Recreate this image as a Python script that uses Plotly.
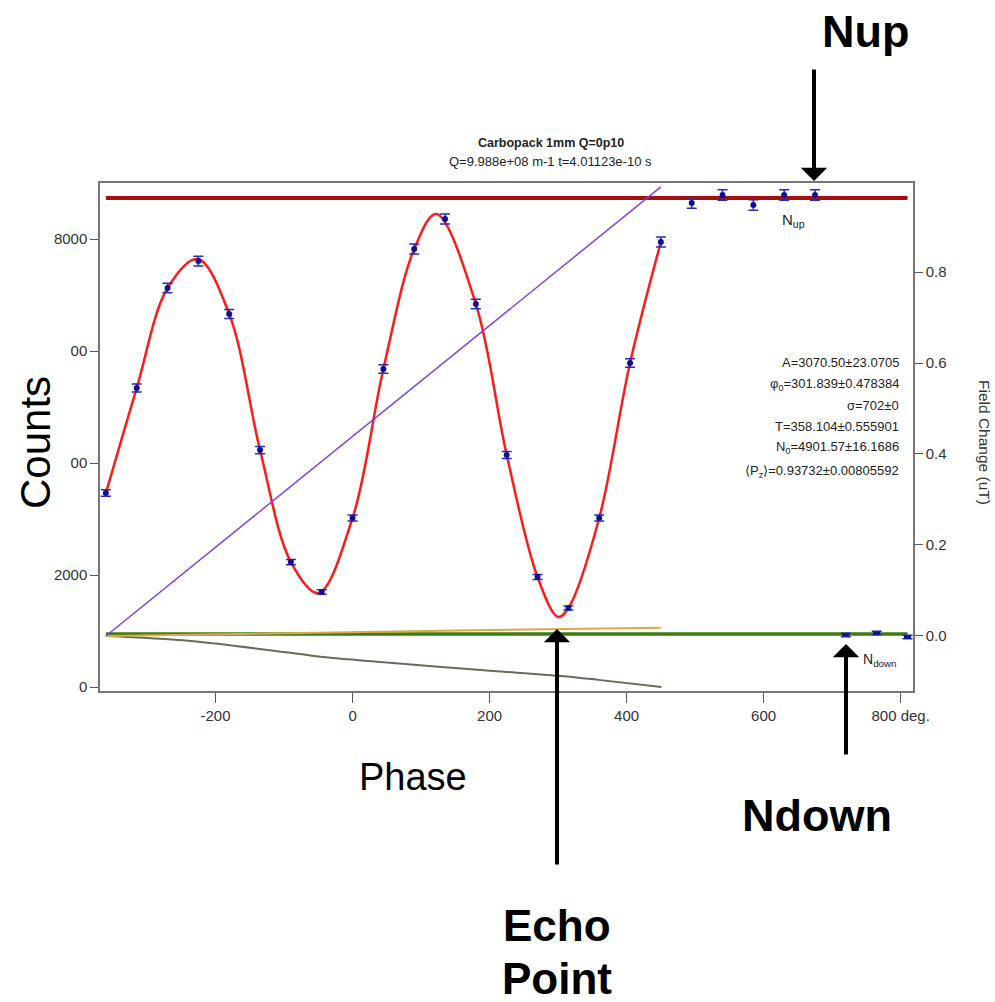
import plotly.graph_objects as go

# ---------------- data ----------------
phase = [-360, -315, -270, -225, -180, -135, -90, -45, 0, 45, 90, 135,
         180, 225, 270, 315, 360, 405, 450]
counts = [3464, 5339, 7125, 7607, 6661, 4232, 2232, 1696, 3018, 5679, 7821, 8357,
          6839, 4143, 1964, 1411, 3018, 5786, 7946]
counts_err = [59, 73, 84, 87, 82, 65, 47, 41, 55, 75, 88, 91, 83, 64, 44, 37, 55, 76, 89]

nup_phase = [495, 540, 585, 630, 675]
nup_counts = [8643, 8786, 8607, 8786, 8786]
nup_err = [93, 94, 93, 94, 94]

ndown_phase = [720, 765, 810]
ndown_counts = [929, 964, 893]
ndown_err = [30, 31, 30]

# fitted curve
fit_phase = [-360, -315, -270, -226, -180, -135, -90, -50, 0, 45, 90, 122,
             180, 225, 270, 300, 315, 360, 405, 450]
fit_counts = [3464, 5339, 7125, 7643, 6661, 4232, 2232, 1680, 3018, 5679, 7821, 8446,
              6839, 4143, 1964, 1250, 1411, 3018, 5786, 7946]

# Nup / Ndown levels
level_phase = [-360, 810]
nup_level = [8732, 8732]
ndown_level = [946, 946]

# field change traces (right axis, uT)
field_phase = [-360, 450]
field_ramp = [0.0, 0.987]
tan_phase = [-360, -200, 0, 200, 450]
tan_field = [0.0, 0.004, 0.009, 0.013, 0.018]
grey_phase = [-360, -236, -91, -32, 41, 187, 304, 362, 451]
grey_field = [0.0, -0.011, -0.037, -0.048, -0.057, -0.075, -0.088, -0.097, -0.112]

x_ticks = [-200, 0, 200, 400, 600, 800]
x_ticktext = ["-200", "0", "200", "400", "600", "800 deg."]
y_ticks = [0, 2000, 4000, 6000, 8000]
y_ticktext = ["0", "2000", "00", "00", "8000"]
y2_ticks = [0.0, 0.2, 0.4, 0.6, 0.8]
y2_ticktext = ["0.0", "0.2", "0.4", "0.6", "0.8"]

fit_lines = ["A=3070.50±23.0705",
             "φ<sub>0</sub>=301.839±0.478384",
             "σ=702±0",
             "T=358.104±0.555901",
             "N<sub>0</sub>=4901.57±16.1686",
             "⟨P<sub>z</sub>⟩=0.93732±0.00805592"]

# ---------------- figure ----------------
W, H = 995, 1002
FONT = "Liberation Sans, Arial, sans-serif"


def px(x):
    return x / W


def py(y):
    return 1 - y / H


fig = go.Figure()

# right-axis traces
fig.add_trace(go.Scatter(x=grey_phase, y=grey_field, yaxis="y2", mode="lines",
                         line=dict(color="#6b6b55", width=2, shape="spline"), hoverinfo="skip"))
fig.add_trace(go.Scatter(x=tan_phase, y=tan_field, yaxis="y2", mode="lines",
                         line=dict(color="#dba84a", width=2), hoverinfo="skip"))
fig.add_trace(go.Scatter(x=field_phase, y=field_ramp, yaxis="y2", mode="lines",
                         line=dict(color="#7d45d8", width=1.5), hoverinfo="skip"))

# level lines
fig.add_trace(go.Scatter(x=level_phase, y=ndown_level, mode="lines",
                         line=dict(color="#3c7d0e", width=3.5), hoverinfo="skip"))
fig.add_trace(go.Scatter(x=level_phase, y=nup_level, mode="lines",
                         line=dict(color="#a50f0f", width=4), hoverinfo="skip"))

# fit curve
fig.add_trace(go.Scatter(x=fit_phase, y=fit_counts, mode="lines",
                         line=dict(color="#ff1a1a", width=2.5, shape="spline", smoothing=1.0),
                         hoverinfo="skip"))

# data points
err_style = dict(type="data", thickness=1.5, width=5, color="#2a2ab8")
marker_style = dict(color="#10108f", size=6, symbol="circle")
fig.add_trace(go.Scatter(x=phase, y=counts, mode="markers", marker=marker_style,
                         error_y=dict(array=counts_err, **err_style)))
fig.add_trace(go.Scatter(x=nup_phase, y=nup_counts, mode="markers", marker=marker_style,
                         error_y=dict(array=nup_err, **err_style)))
fig.add_trace(go.Scatter(x=ndown_phase, y=ndown_counts, mode="markers",
                         marker=dict(color="#10108f", size=5, symbol="line-ew-open",
                                     line=dict(width=3, color="#10108f")),
                         error_y=dict(array=ndown_err, **err_style)))

axis_line = "#777777"
tickfont = dict(family=FONT, size=15, color="#333333")

fig.update_layout(
    width=W, height=H,
    margin=dict(l=0, r=0, t=0, b=0),
    paper_bgcolor="white", plot_bgcolor="white",
    showlegend=False,
    xaxis=dict(domain=[px(100), px(913)], range=[-368.6, 818],
               tickvals=x_ticks, ticktext=x_ticktext, ticks="outside", ticklen=10,
               tickcolor="#555555", tickwidth=1.2, tickfont=tickfont,
               showline=True, linecolor=axis_line, linewidth=1.5, mirror=True,
               showgrid=False, zeroline=False, automargin=False),
    yaxis=dict(domain=[py(691), py(183)], range=[-71, 9000],
               tickvals=y_ticks, ticktext=y_ticktext, ticks="outside", ticklen=8,
               tickcolor="#555555", tickwidth=1.2, tickfont=tickfont,
               showline=True, linecolor=axis_line, linewidth=1.5,
               showgrid=False, zeroline=False, automargin=False),
    yaxis2=dict(overlaying="y", side="right", anchor="x",
                range=[-0.1209, 0.9956],
                tickvals=y2_ticks, ticktext=y2_ticktext, ticks="outside", ticklen=8,
                tickcolor="#555555", tickwidth=1.2, tickfont=tickfont,
                showline=True, linecolor=axis_line, linewidth=1.5,
                showgrid=False, zeroline=False, automargin=False),
)

ann = []


def text(x, y, s, size, bold=False, angle=0, xanchor="center", color="black"):
    if bold:
        s = "<b>" + s + "</b>"
    ann.append(dict(x=px(x), y=py(y), xref="paper", yref="paper", text=s,
                    showarrow=False, textangle=angle, xanchor=xanchor, yanchor="middle",
                    font=dict(family=FONT, size=size, color=color)))


def arrow(x, y_tip, y_tail):
    ann.append(dict(x=px(x), y=py(y_tip), xref="paper", yref="paper", text="",
                    showarrow=True, ax=0, ay=y_tail - y_tip, axref="pixel", ayref="pixel",
                    arrowhead=1, arrowsize=1.1, arrowwidth=4, arrowcolor="black",
                    standoff=0))


# titles
text(551, 143, "Carbopack 1mm Q=0p10", 12.5, bold=True, color="#222222")
text(550, 161, "Q=9.988e+08 m-1 t=4.01123e-10 s", 13, color="#222222")

# fit parameters
for s, yy in zip(fit_lines, [362, 384, 405, 426, 447, 471]):
    text(901, yy, s, 13, xanchor="right", color="#222222")

# in-plot labels
text(793, 221, "N<sub>up</sub>", 15, color="#222222")
text(880, 660, "N<sub>down</sub>", 14, color="#222222")

# right axis title
text(985, 442, "Field Change (uT)", 15.5, angle=90, color="#333333")

# big overlay labels
text(35, 443, "Counts", 42, angle=-90)
text(413, 777, "Phase", 38)
text(865, 32, "Nup", 45, bold=True)
text(817, 815, "Ndown", 45, bold=True)
text(557, 925, "Echo", 44, bold=True)
text(557, 978, "Point", 44, bold=True)

arrow(814, 181, 68)
arrow(846, 644, 756)
arrow(557, 629, 866)

fig.update_layout(annotations=ann)

fig.write_html("out.html")
